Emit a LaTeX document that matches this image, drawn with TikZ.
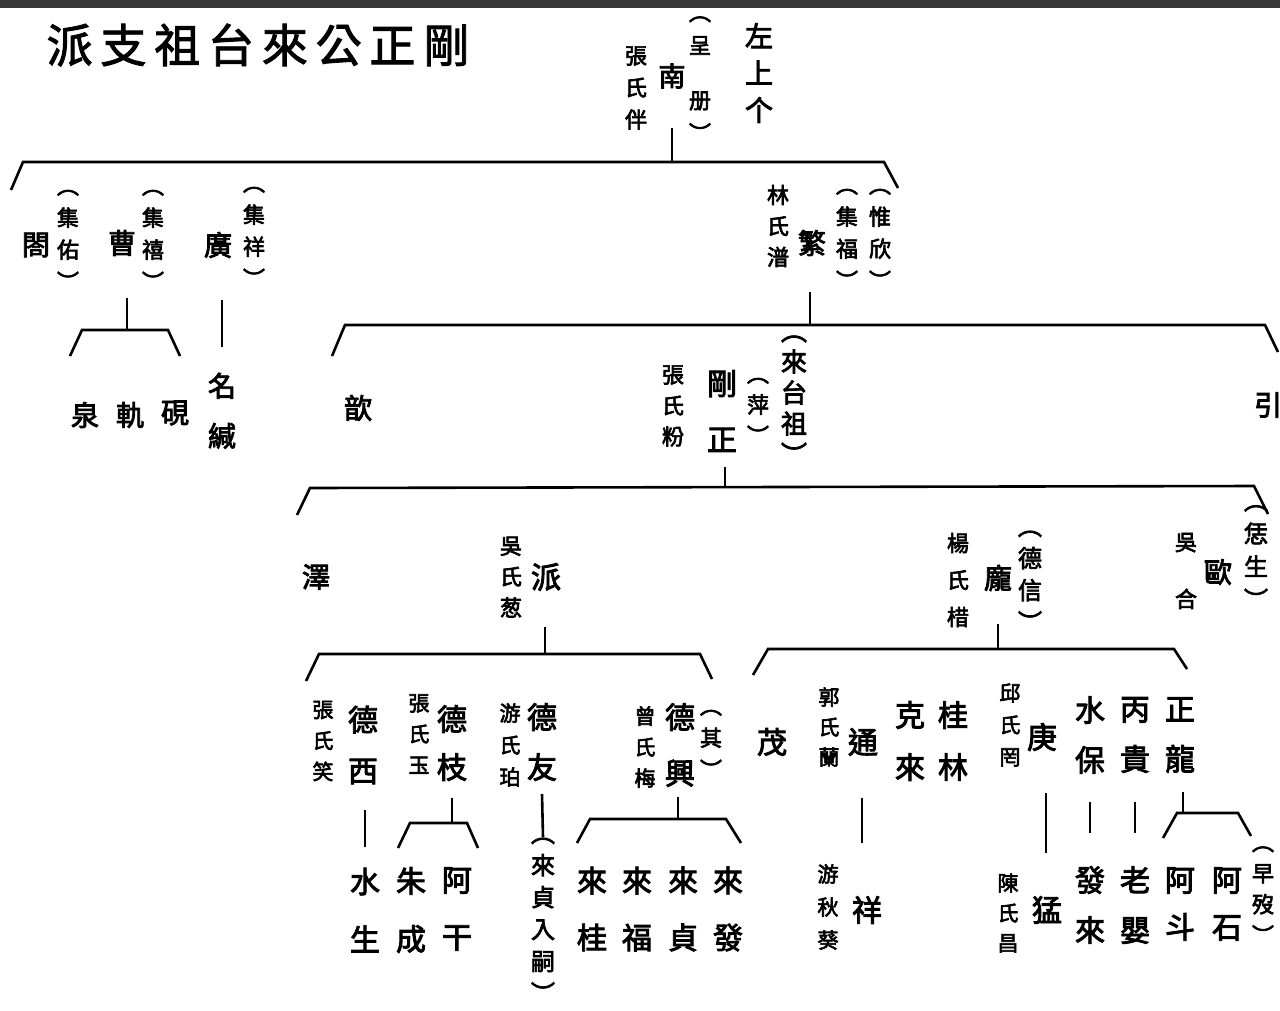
\documentclass[tikz,border=0pt]{standalone}
\usepackage{fontspec}
\newfontfamily\cjk{Noto Sans CJK TC}[FakeBold=3]
\newfontfamily\cjkt{Noto Sans CJK TC}[LetterSpace=17,FakeBold=2]
\usetikzlibrary{calc}
\begin{document}
\begin{tikzpicture}[x=1pt,y=-1pt,
  conn/.style={line width=2.6pt, line join=miter},
  vt/.style 2 args={font=\cjk\fontsize{#1}{#2}\selectfont, align=center, inner sep=0pt},
]
\useasboundingbox (0,0) rectangle (1280,1010);
\fill[white] (0,0) rectangle (1280,1010);
\fill[black!78] (0,0) rectangle (1280,8);

\node[font=\cjkt\fontsize{46}{46}\selectfont, inner sep=0pt] (title) at (258,45) {派支祖台來公正剛};

% generation 1
\node[vt={22}{32}] (g1w) at (636,88) {張\\氏\\伴};
\node[vt={27}{27}] (g1) at (672,76) {南};
\node[vt={22}{33}] (g1a) at (700,79) {︵\\呈\\[22pt]册\\︶};
\node[vt={28}{37}] (g1n) at (759,73) {左\\上\\个};
\coordinate (b1l) at (23,162);
\coordinate (b1r) at (884,162);
\coordinate (s1) at ($(g1)+(0,52)$);
\draw[conn] (11,190) -- (b1l) -- (b1r) -- (898,188);
\draw[conn] (s1) -- (s1 |- b1l);

% generation 2, left
\node[vt={28}{28}] (ge) at (36,245) {閤};
\node[vt={22}{32}] (gea) at (68,240) {︵\\集\\佑\\︶};
\node[vt={28}{28}] (cao) at (122,243) {曹};
\node[vt={22}{32}] (caoa) at (153,240) {︵\\集\\禧\\︶};
\node[vt={28}{28}] (guang) at (218,245) {廣};
\node[vt={22}{32}] (guanga) at (254,237) {︵\\集\\祥\\︶};
\coordinate (b2l) at (82,330);
\coordinate (b2r) at (168,330);
\coordinate (s2) at ($(cao)+(5,55)$);
\draw[conn] (70,356) -- (b2l) -- (b2r) -- (180,356);
\draw[conn] (s2) -- (s2 |- b2l);
\node[vt={28}{28}] (quan) at (85,415) {泉};
\node[vt={28}{28}] (gui) at (130,415) {軌};
\node[vt={28}{28}] (yan) at (175,413) {硯};
\node[vt={28}{50}] (mingjian) at (222,411) {名\\緘};
\draw[conn] ($(guang)+(4,55)$) -- ($(mingjian)+(0,-64)$);

% generation 2, right
\node[vt={22}{31}] (fanw) at (778,226) {林\\氏\\潽};
\node[vt={28}{28}] (fan) at (812,243) {繁};
\node[vt={22}{32}] (fana) at (847,239) {︵\\集\\福\\︶};
\node[vt={22}{32}] (fanb) at (880,239) {︵\\惟\\欣\\︶};
\coordinate (s3) at ($(fan)+(-2,49)$);
\coordinate (b3l) at (345,325);
\coordinate (b3r) at (1265,325);
\draw[conn] (332,356) -- (b3l) -- (b3r) -- (1278,352);
\draw[conn] (s3) -- (s3 |- b3l);

% generation 3
\node[vt={28}{28}] (xin) at (358,408) {歆};
\node[vt={28}{28}] (yin) at (1268,405) {引};
\node[vt={30}{56}] (gz) at (722,411) {剛\\正};
\node[vt={22}{31}] (gzw) at (673,406) {張\\氏\\粉};
\node[vt={22}{31}] (gza) at (758,411) {︵\\萍\\︶};
\node[vt={26}{31}] (gzb) at (794,400) {︵\\來\\台\\祖\\︶};
\coordinate (s4) at ($(gz)+(3,56)$);
\coordinate (b4l) at (310,488);
\coordinate (b4r) at (1254,486);
\draw[conn] (297,515) -- (b4l) -- (b4r) -- (1268,514);
\draw[conn] (s4) -- (s4 |- b4l);

% generation 4
\node[vt={28}{28}] (ze) at (316,577) {澤};
\node[vt={30}{30}] (pai) at (546,577) {派};
\node[vt={22}{31}] (paiw) at (511,577) {吳\\氏\\葱};
\coordinate (s5a) at ($(pai)+(-1,50)$);
\coordinate (b5al) at (319,654);
\coordinate (b5ar) at (700,654);
\draw[conn] (306,681) -- (b5al) -- (b5ar) -- (712,679);
\draw[conn] (s5a) -- (s5a |- b5al);

\node[vt={28}{28}] (pang) at (998,578) {龐};
\node[vt={22}{37}] (pangw) at (958,580) {楊\\氏\\棤};
\node[vt={24}{32}] (panga) at (1030,581) {︵\\德\\信\\︶};
\coordinate (s5b) at ($(pang)+(0,46)$);
\coordinate (b5bl) at (768,649);
\coordinate (b5br) at (1174,649);
\draw[conn] (753,675) -- (b5bl) -- (b5br) -- (1187,669);
\draw[conn] (s5b) -- (s5b |- b5bl);

\node[vt={28}{28}] (ou) at (1218,572) {歐};
\node[vt={22}{57}] (ouw) at (1186,571) {吳\\合};
\node[vt={24}{33}] (oua) at (1256,557) {︵\\恁\\生\\︶};

% generation 5 under pai
\node[vt={30}{51}] (dx) at (363,745) {德\\西};
\node[vt={21}{31}] (dxw) at (323,741) {張\\氏\\笑};
\node[vt={30}{58}] (sg) at (365,910) {水\\生};
\draw[conn] ($(dx)+(2,65)$) -- ($(sg)+(0,-63)$);

\node[vt={30}{48}] (dz) at (452,743) {德\\枝};
\node[vt={21}{31}] (dzw) at (419,734) {張\\氏\\玉};
\coordinate (s6b) at ($(dz)+(0,55)$);
\coordinate (b6bl) at (410,823);
\coordinate (b6br) at (467,823);
\draw[conn] (398,848) -- (b6bl) -- (b6br) -- (478,848);
\draw[conn] (s6b) -- (s6b |- b6bl);
\node[vt={30}{58}] (zc) at (411,910) {朱\\成};
\node[vt={30}{57}] (ag) at (457,909) {阿\\干};

\node[vt={30}{50}] (dy) at (542,742) {德\\友};
\node[vt={21}{32}] (dyw) at (510,745) {游\\氏\\珀};
\node[vt={24}{32}] (dya) at (543,920) {︵\\來\\貞\\入\\嗣\\︶};
\draw[conn] ($(dy)+(0,52)$) -- ($(dya)+(0,-83)$);

\node[vt={30}{56}] (dxing) at (680,745) {德\\興};
\node[vt={21}{31}] (dxingw) at (645,747) {曾\\氏\\梅};
\node[vt={22}{32}] (dxinga) at (711,744) {︵\\其\\︶};
\coordinate (s6d) at ($(dxing)+(-2,52)$);
\coordinate (b6dl) at (590,819);
\coordinate (b6dr) at (726,819);
\draw[conn] (577,843) -- (b6dl) -- (b6dr) -- (741,843);
\draw[conn] (s6d) -- (s6d |- b6dl);
\node[vt={30}{57}] (lgui) at (592,909) {來\\桂};
\node[vt={30}{57}] (lfu) at (637,909) {來\\福};
\node[vt={30}{57}] (lzhen) at (683,909) {來\\貞};
\node[vt={30}{57}] (lfa) at (728,909) {來\\發};

% generation 5 under pang
\node[vt={30}{30}] (mao) at (772,742) {茂};
\node[vt={30}{30}] (tong) at (863,742) {通};
\node[vt={21}{30}] (tongw) at (829,727) {郭\\氏\\蘭};
\node[vt={30}{30}] (xiang) at (867,910) {祥};
\node[vt={21}{33}] (xiangw) at (828,907) {游\\秋\\葵};
\draw[conn] ($(tong)+(-1,56)$) -- ($(xiang)+(-5,-67)$);

\node[vt={30}{52}] (kl) at (910,741) {克\\來};
\node[vt={30}{52}] (gl) at (953,741) {桂\\林};

\node[vt={30}{30}] (geng) at (1042,737) {庚};
\node[vt={21}{32}] (gengw) at (1010,725) {邱\\氏\\罔};
\node[vt={30}{30}] (meng) at (1047,910) {猛};
\node[vt={21}{30}] (mengw) at (1008,913) {陳\\氏\\昌};
\draw[conn] ($(geng)+(4,56)$) -- ($(meng)+(-1,-57)$);

\node[vt={30}{50}] (sb) at (1090,735) {水\\保};
\node[vt={30}{50}] (fl) at (1090,905) {發\\來};
\draw[conn] ($(sb)+(0,67)$) -- ($(fl)+(0,-72)$);
\node[vt={30}{50}] (bg) at (1135,735) {丙\\貴};
\node[vt={30}{50}] (ly) at (1135,905) {老\\嬰};
\draw[conn] ($(bg)+(0,67)$) -- ($(ly)+(0,-72)$);
\node[vt={30}{50}] (zl) at (1180,735) {正\\龍};
\coordinate (s7z) at ($(zl)+(3,57)$);
\coordinate (b7zl) at (1177,813);
\coordinate (b7zr) at (1238,813);
\draw[conn] (1163,838) -- (b7zl) -- (b7zr) -- (1251,836);
\draw[conn] (s7z) -- (s7z |- b7zl);
\node[vt={30}{47}] (ad) at (1180,904) {阿\\斗};
\node[vt={30}{47}] (ashi) at (1227,904) {阿\\石};
\node[vt={22}{31}] (asa) at (1263,895) {︵\\早\\歿\\︶};
\end{tikzpicture}
\end{document}
